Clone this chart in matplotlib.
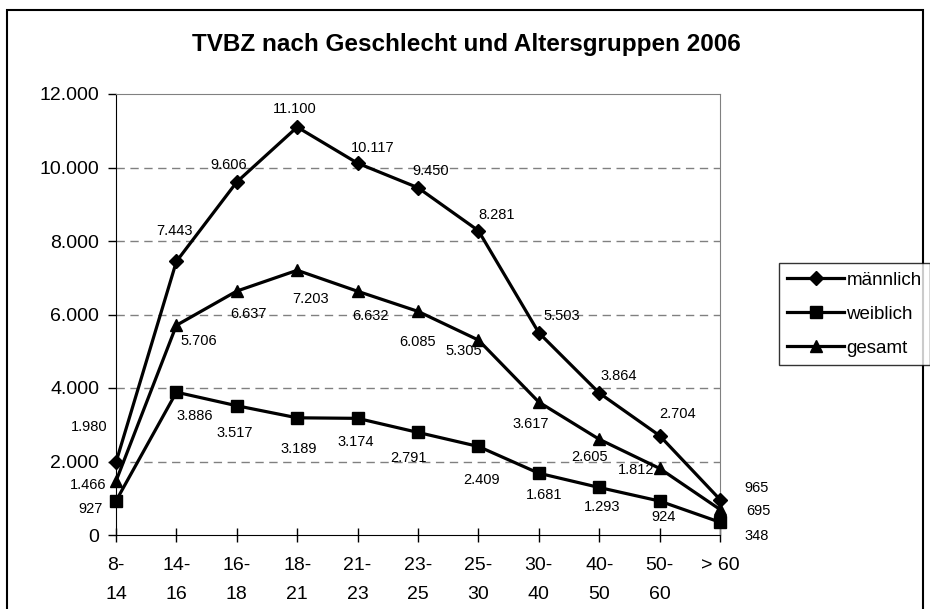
import matplotlib
matplotlib.use("Agg")
import matplotlib.pyplot as plt
from matplotlib.ticker import FuncFormatter, MultipleLocator
from matplotlib.patches import Rectangle

plt.rcParams['font.family'] = ['Liberation Sans', 'DejaVu Sans']

altersgruppen = ["8-\n14", "14-\n16", "16-\n18", "18-\n21", "21-\n23", "23-\n25",
                 "25-\n30", "30-\n40", "40-\n50", "50-\n60", "> 60"]
maennlich = [1980, 7443, 9606, 11100, 10117, 9450, 8281, 5503, 3864, 2704, 965]
weiblich = [927, 3886, 3517, 3189, 3174, 2791, 2409, 1681, 1293, 924, 348]
gesamt = [1466, 5706, 6637, 7203, 6632, 6085, 5305, 3617, 2605, 1812, 695]

# Versatz der Datenbeschriftungen in Pixeln (wie im Excel-Original)
off_m = [(-27, 35), (-2, 30), (-8, 17), (-2, 18), (15, 15), (13, 17),
         (18, 16), (23, 17), (20, 17), (18, 22), (37, 12)]
off_w = [(-25, -8), (18, -24), (-2, -27), (2, -31), (-2, -24), (-10, -26),
         (3, -34), (5, -22), (3, -20), (4, -16), (37, -14)]
off_g = [(-28, -4), (22, -16), (12, -23), (13, -29), (13, -25), (0, -31),
         (-15, -11), (-8, -22), (-10, -18), (-23, -2), (38, -2)]


def de_format(v):
    return f"{int(v):,}".replace(",", ".")


fig = plt.figure(figsize=(9.3, 6.09), dpi=100)
ax = fig.add_axes([116 / 930, 74 / 609, 604 / 930, 441 / 609])

x = list(range(len(altersgruppen)))
serien = [
    ("männlich", maennlich, "D", 7.5, off_m),
    ("weiblich", weiblich, "s", 8, off_w),
    ("gesamt", gesamt, "^", 9, off_g),
]
for name, werte, marker, ms, offs in serien:
    ax.plot(x, werte, color="black", lw=2.3, marker=marker, markersize=ms,
            label=name, clip_on=False, zorder=3)
    for xi, v, (dx, dy) in zip(x, werte, offs):
        ax.annotate(de_format(v), (xi, v), xytext=(dx, dy),
                    textcoords="offset pixels", ha="center", va="center",
                    fontsize=10.5, annotation_clip=False)

ax.set_xlim(0, len(altersgruppen) - 1)
ax.set_ylim(0, 12000)
ax.set_xticks(x)
ax.set_xticklabels(altersgruppen, fontsize=14, linespacing=1.9)
ax.yaxis.set_major_locator(MultipleLocator(2000))
ax.yaxis.set_major_formatter(FuncFormatter(lambda v, p: de_format(v)))
ax.tick_params(axis="y", labelsize=14, direction="out", length=6, width=1, pad=6)
ax.tick_params(axis="x", direction="inout", length=10, width=1, pad=11)

for y in range(2000, 12000, 2000):
    ax.axhline(y, color="#808080", lw=1, ls=(0, (6, 4)), zorder=1)

ax.spines["left"].set_color("black")
ax.spines["bottom"].set_color("black")
ax.spines["top"].set_color("#808080")
ax.spines["right"].set_color("#808080")

fig.suptitle("TVBZ nach Geschlecht und Altersgruppen 2006", x=466 / 930,
             y=1 - 45 / 609, fontsize=17.5, fontweight="bold", va="center")

leg = fig.legend(loc="upper left", bbox_to_anchor=(779 / 930, 1 - 263 / 609),
                 fontsize=13.5, frameon=True, fancybox=False, edgecolor="black",
                 handlelength=3.0, handletextpad=0.15, labelspacing=0.9,
                 borderpad=0.45, borderaxespad=0)
leg.get_frame().set_linewidth(1)

# Rahmen um das Diagramm
fig.patches.append(Rectangle((7 / 930, -0.01), 916 / 930, 1 - 10 / 609 + 0.01,
                             transform=fig.transFigure, fill=False,
                             edgecolor="black", lw=1.5))

fig.savefig("out.png", dpi=100)
